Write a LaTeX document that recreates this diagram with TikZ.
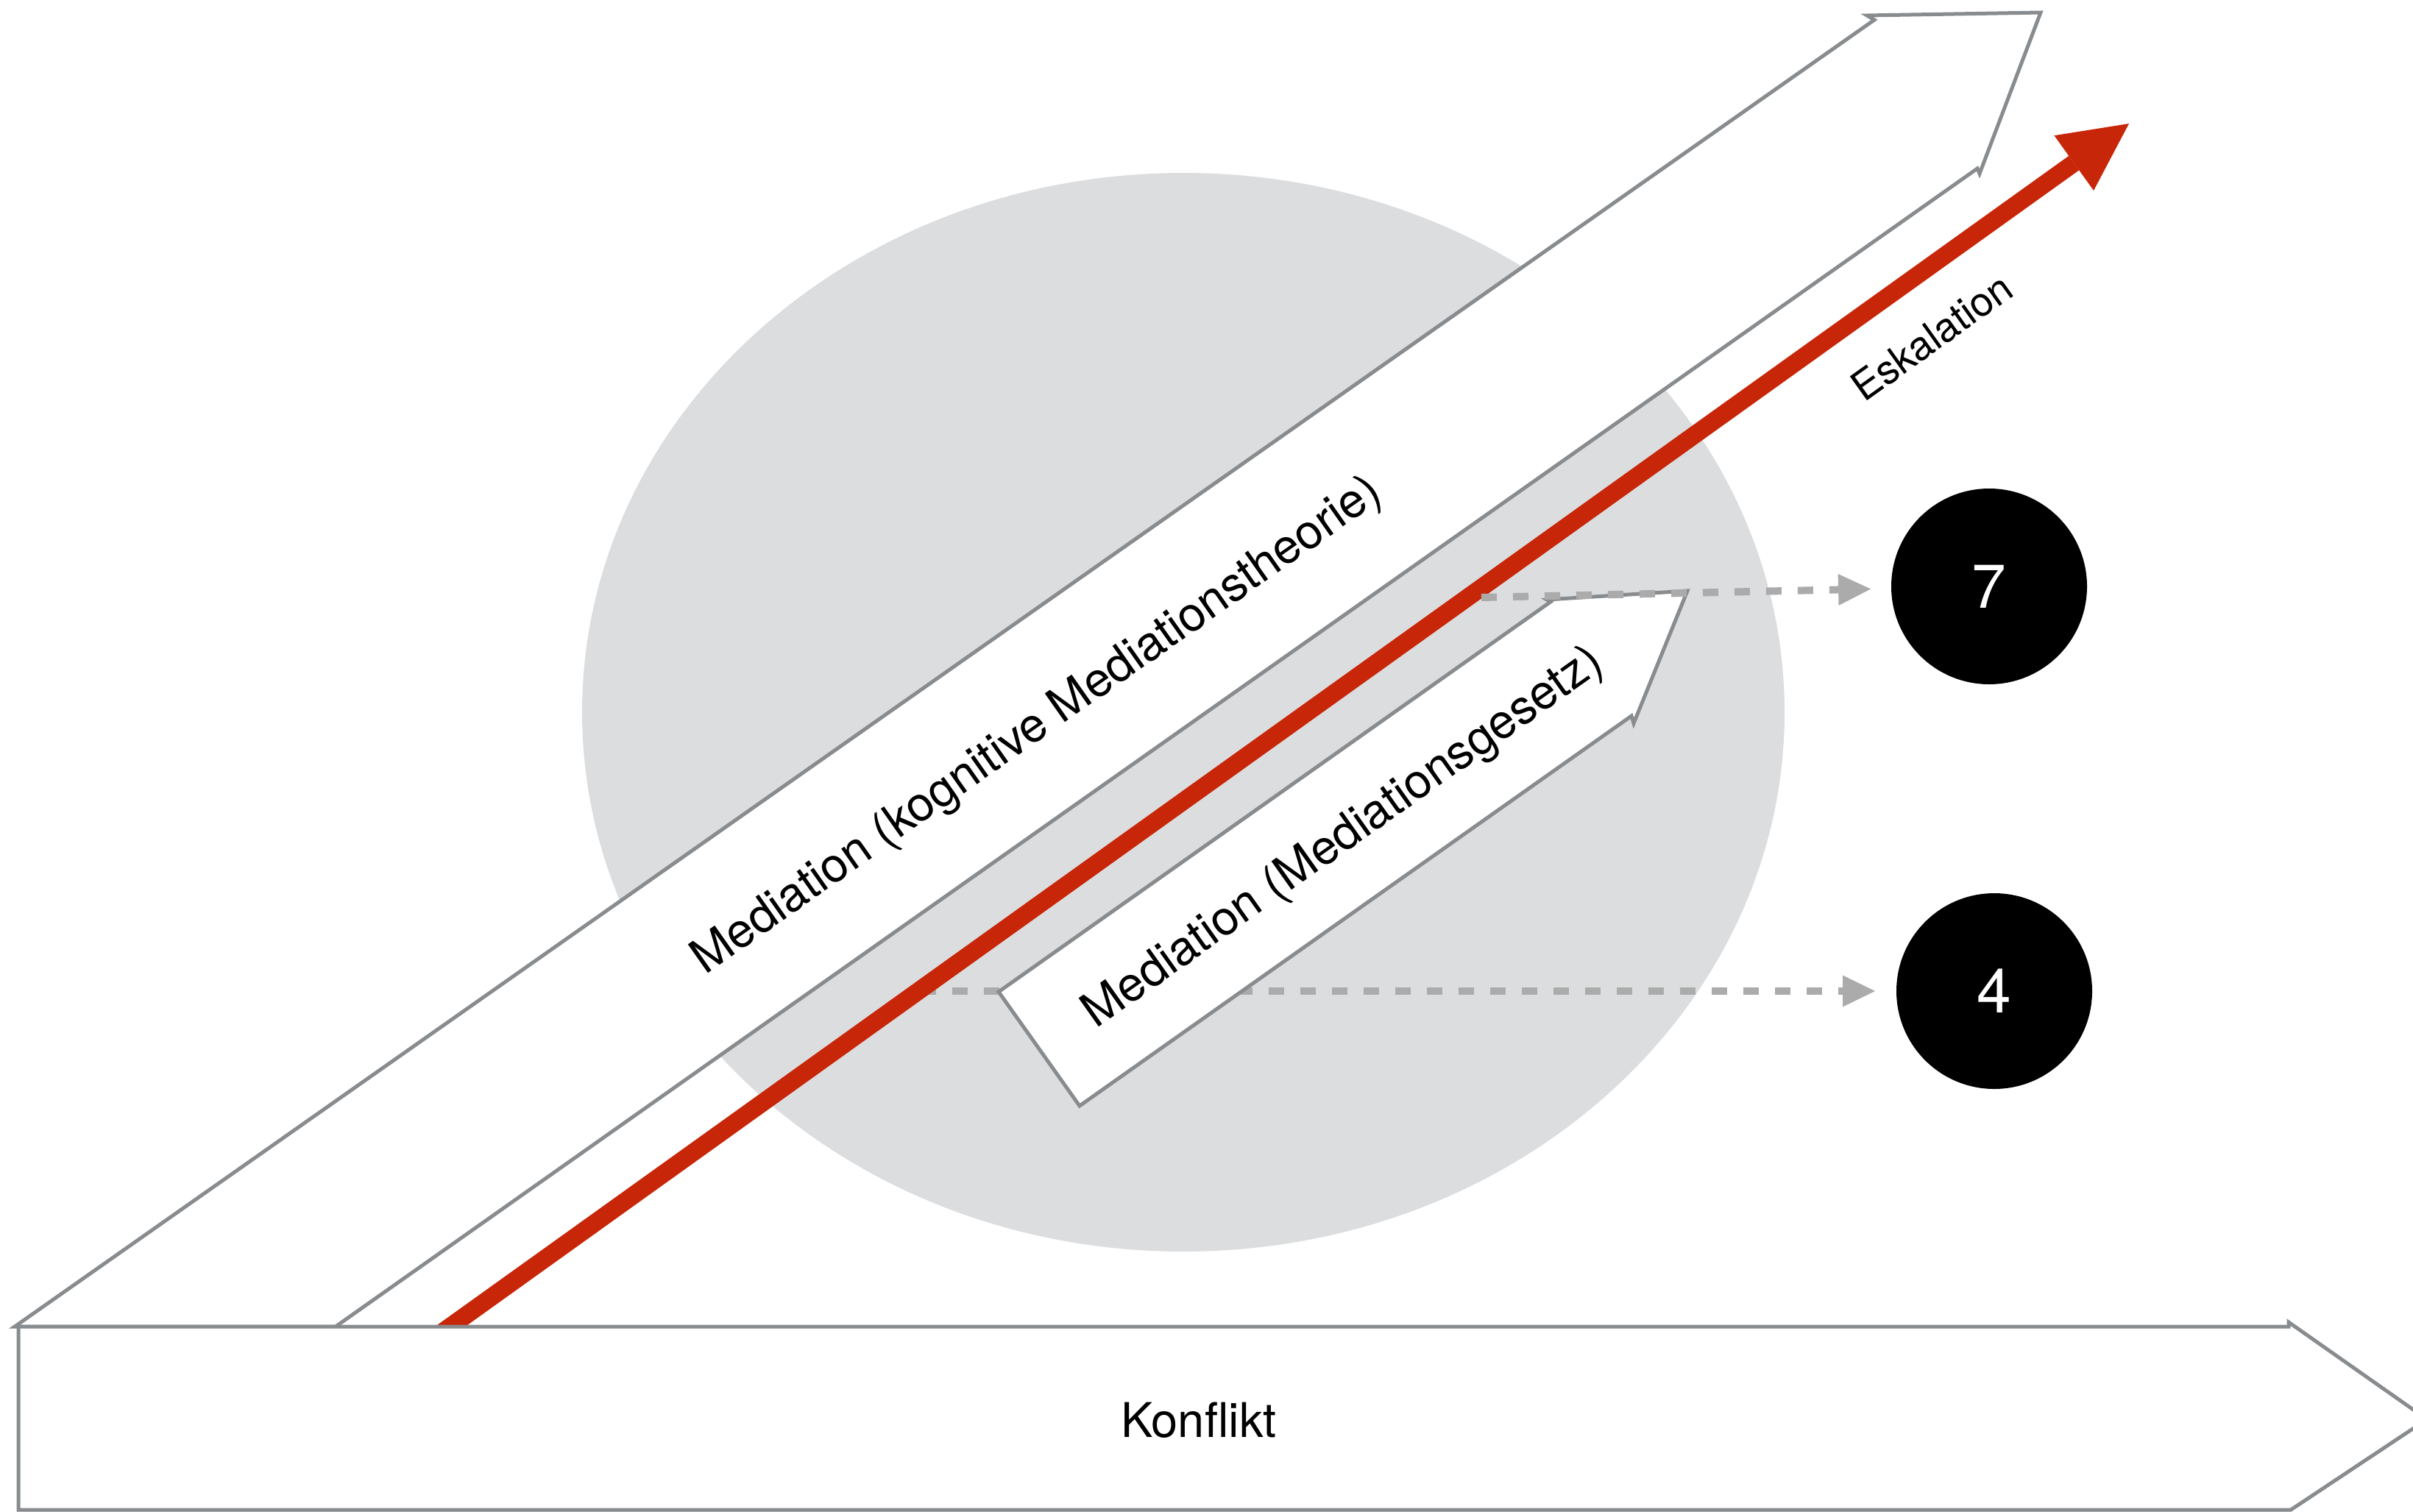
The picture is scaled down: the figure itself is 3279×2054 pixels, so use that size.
\documentclass[tikz,border=0pt]{standalone}
\usepackage{fontspec}
\setmainfont{TeX Gyre Heros}
\usetikzlibrary{arrows.meta}

\definecolor{edgegray}{RGB}{137,140,143}
\definecolor{discgray}{RGB}{220,221,223}
\definecolor{dashgray}{RGB}{170,171,170}
\definecolor{escred}{RGB}{200,38,8}

\tikzset{
  band/.style={draw=edgegray, fill=white, line width=5, line join=miter},
  label/.style={inner sep=0, font=\fontsize{65}{78}\selectfont},
  smalllabel/.style={inner sep=0, font=\fontsize{55}{66}\selectfont},
  numdot/.style={circle, fill=black, text=white, minimum size=266, inner sep=0,
                 outer sep=0, font=\fontsize{84}{96}\selectfont},
  dasharrow/.style={draw=dashgray, line width=10, dash pattern=on 21 off 22,
                    -{Triangle[length=44pt,width=43pt,line width=0pt]}},
  redarrow/.style={draw=escred, line width=24,
                   -{Triangle[length=92pt,width=92pt,line width=0pt]}},
}

\begin{document}
\begin{tikzpicture}[x=1pt, y=-1pt]
  \useasboundingbox (0,0) rectangle (3279,2054);

  % grey disc in the background
  \fill[discgray] (1608,968) ellipse [x radius=817, y radius=733];

  % long diagonal band: cognitive mediation theory
  \draw[band] (20,1803) -- (2547,27) -- (2537,21) -- (2773,17)
              -- (2690,236) -- (2687,229) -- (456,1803) -- cycle;
  \node[label, rotate=35.1] (kog) at (1410,988) {Mediation (kognitive Mediationstheorie)};

  % end points and target circles
  \node[numdot] (n7) at (2703,797) {7};
  \node[numdot] (n4) at (2710,1347) {4};
  \coordinate (d4) at (1251,1347);
  \coordinate (d7) at (2013,812);

  % dashed lead to circle 4 (runs under the short band)
  \draw[dasharrow, shorten >=29pt] (d4) -- (n4);

  % escalation arrow
  \coordinate (rs) at (588,1820);
  \coordinate (rt) at (2893,168);
  \draw[redarrow] (rs) -- (rt);
  \node[smalllabel, rotate=35.5] (esk) at (2625,458) {Eskalation};

  % short band: mediation law
  \draw[band] (1357,1348) -- (2107,818) -- (2102,815) -- (2293,803)
              -- (2220,983) -- (2217,973) -- (1467,1503) -- cycle;
  \node[label, rotate=35.3] (ges) at (1826,1140) {Mediation (Mediationsgesetz)};

  % dashed lead to circle 7
  \draw[dasharrow, shorten >=28pt] (d7) -- (n7);

  % horizontal conflict band along the bottom
  \draw[band] (25,1803) -- (3110,1803) -- (3110,1797) -- (3298,1929)
              -- (3113,2052) -- (25,2052) -- cycle;
  \node[label] (konf) at (1629,1930) {Konflikt};
\end{tikzpicture}
\end{document}
